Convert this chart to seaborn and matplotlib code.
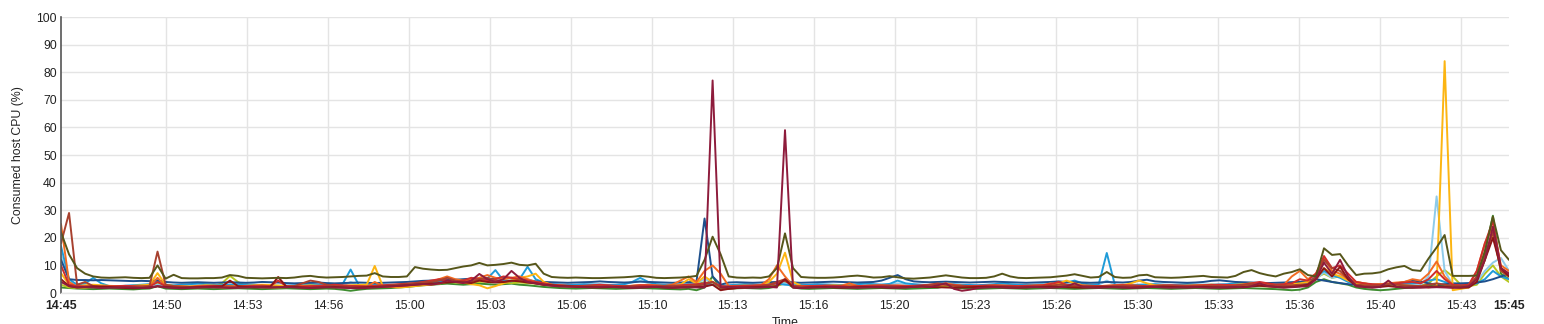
import numpy as np
import pandas as pd
import matplotlib
matplotlib.use("Agg")
import matplotlib.pyplot as plt
import seaborn as sns

# ---------------- data (20-second samples, 14:45 -> 15:45) ----------------
minutes = np.arange(181) / 3.0

olive = [22, 14, 9, 7, 6, 5.6, 5.5, 5.6, 5.7, 5.5, 5.4, 5.5, 10, 5.2, 6.6, 5.4, 5.3, 5.3, 5.4, 5.4,
         5.6, 6.5, 6.2, 5.5, 5.4, 5.3, 5.4, 5.5, 5.4, 5.6, 6.0, 6.2, 5.8, 5.6, 5.7, 5.8, 6.0, 6.2, 6.3, 7.2,
         6.0, 5.8, 5.8, 6.0, 9.4, 8.8, 8.5, 8.3, 8.4, 9.0, 9.6, 10.0, 10.9, 10.0, 10.2, 10.5, 11.0, 10.2, 10.0, 10.6,
         7.0, 5.8, 5.6, 5.5, 5.6, 5.5, 5.4, 5.4, 5.5, 5.6, 5.7, 5.9, 6.2, 5.9, 5.5, 5.4, 5.5, 5.6, 5.8, 6.2,
         12, 20.4, 14, 6.0, 5.6, 5.5, 5.6, 5.5, 6.0, 9.0, 21.6, 9.0, 5.8, 5.6, 5.5, 5.5, 5.6, 5.8, 6.1, 6.3,
         6.0, 5.6, 5.7, 6.1, 5.7, 5.3, 5.2, 5.4, 5.6, 6.0, 6.4, 6.0, 5.6, 5.4, 5.4, 5.5, 6.0, 7.0, 6.0, 5.5,
         5.4, 5.5, 5.6, 5.7, 6.0, 6.3, 6.8, 6.2, 5.6, 5.8, 7.6, 5.8, 5.5, 5.6, 6.4, 6.6, 5.7, 5.6, 5.5, 5.6,
         5.8, 6.0, 6.2, 5.8, 5.7, 5.6, 6.2, 7.6, 8.3, 7.2, 6.5, 6.0, 7.0, 7.6, 8.6, 6.5, 6.0, 16.2, 13.8, 14.1,
         10.0, 6.5, 7.0, 7.1, 7.5, 8.6, 9.3, 9.8, 8.3, 8.0, 12.5, 16.5, 21.0, 6.2, 6.2, 6.2, 6.3, 15.0, 27.7, 15.5,
         12.0]

crimson = [4, 2.5, 2.0, 2.2, 2.0, 1.8, 1.9, 2.0, 2.1, 2.0, 1.8, 1.9, 2.5, 2.0, 1.8, 1.7, 1.8, 2.0, 2.1, 2.0,
           2.0, 1.8, 1.9, 2.0, 2.2, 2.0, 1.9, 2.1, 2.2, 2.0, 1.9, 1.8, 2.0, 2.1, 2.0, 1.9, 1.8, 1.7, 1.8, 2.0,
           2.2, 2.4, 2.6, 2.8, 3.0, 3.2, 3.0, 3.4, 4.5, 4.0, 3.6, 4.5, 6.9, 5.0, 4.0, 5.0, 8.0, 5.5, 4.0, 3.5,
           3.0, 2.6, 2.4, 2.3, 2.2, 2.1, 2.0, 2.2, 2.3, 2.1, 2.0, 1.9, 2.0, 2.1, 2.2, 2.0, 1.9, 2.0, 2.1, 2.0,
           2.0, 77, 2.0, 2.2, 2.1, 2.0, 1.9, 2.0, 2.2, 2.0, 59, 2.0, 1.8, 2.0, 2.1, 2.0, 2.2, 2.1, 2.0, 1.9,
           2.0, 2.1, 2.2, 2.0, 1.9, 2.0, 2.2, 2.4, 2.2, 2.8, 3.5, 1.5, 0.8, 1.2, 1.8, 2.0, 2.1, 2.0, 1.9, 2.0,
           2.1, 2.2, 2.0, 1.9, 2.0, 2.4, 3.5, 2.2, 2.0, 1.9, 2.0, 2.1, 2.0, 1.9, 2.0, 2.1, 2.2, 2.0, 1.9, 2.0,
           2.0, 2.1, 2.0, 1.9, 2.0, 2.1, 2.2, 2.0, 2.5, 3.5, 2.5, 2.2, 2.0, 2.1, 2.3, 2.5, 5.0, 11.0, 7.0, 12.0,
           6.0, 2.5, 2.2, 2.0, 2.2, 4.5, 2.2, 2.0, 2.1, 2.0, 2.0, 2.1, 2.0, 1.9, 2.0, 2.4, 5.0, 12.0, 24.0, 9.0,
           7.0]

brown_red = [18, 29, 3, 4, 2.5, 2.3, 2.2, 2.0, 2.1, 2.2, 2.3, 2.5, 15, 3, 2.5, 2.3, 2.2, 2.0, 2.1, 2.2,
             2.3, 2.2, 2.0, 2.1, 2.2, 2.4, 2.3, 2.2, 2.0, 2.5, 3.5, 4.5, 4.0, 3.0, 2.5, 2.3, 2.2, 2.0, 2.1, 2.2,
             2.5, 2.8, 3.0, 3.2, 3.5, 3.8, 4.0, 4.5, 5.5, 4.5, 4.0, 4.2, 5.0, 5.5, 4.5, 4.0, 4.3, 4.8, 4.0, 3.5,
             3.0, 2.8, 2.6, 2.5, 2.4, 2.3, 2.5, 2.4, 2.3, 2.2, 2.4, 2.5, 2.3, 2.2, 2.4, 2.5, 2.6, 2.4, 2.5, 2.8,
             3.0, 4.0, 2.0, 1.5, 1.8, 2.0, 2.2, 2.4, 3.0, 4.0, 5.0, 2.5, 2.2, 2.0, 2.1, 2.2, 2.3, 2.2, 2.1, 2.0,
             2.1, 2.2, 2.3, 2.4, 2.2, 2.1, 2.3, 2.5, 3.0, 3.5, 3.0, 2.6, 2.4, 2.3, 2.2, 2.1, 2.3, 2.4, 2.2, 2.1,
             2.2, 2.3, 2.4, 2.6, 3.0, 2.8, 2.6, 2.5, 2.4, 2.3, 2.4, 2.5, 2.6, 2.4, 2.3, 2.2, 2.4, 2.6, 2.5, 2.4,
             2.3, 2.4, 2.5, 2.6, 2.5, 2.4, 2.6, 3.0, 3.2, 3.0, 2.8, 2.7, 2.6, 2.8, 3.0, 3.2, 6.0, 12.0, 9.0, 8.0,
             5.0, 3.0, 2.8, 2.6, 2.8, 3.2, 3.0, 2.8, 2.6, 2.5, 3.0, 3.5, 3.0, 2.6, 2.5, 2.6, 6.0, 14.0, 22.0, 8.0,
             6.0]

dark_blue = [12, 5, 4.7, 4.7, 4.6, 4.7, 4.6, 4.5, 4.4, 4.3, 4.4, 4.3, 4.6, 4.0, 3.8, 3.7, 3.8, 3.9, 3.8, 3.7,
             3.8, 3.9, 3.8, 3.7, 3.8, 4.0, 3.9, 3.8, 3.6, 3.5, 3.6, 3.7, 3.8, 3.6, 3.5, 3.6, 3.7, 3.8, 3.7, 3.6,
             3.7, 3.8, 3.9, 4.0, 4.2, 4.4, 4.5, 4.6, 4.7, 4.8, 5.0, 5.2, 5.3, 5.0, 5.2, 5.4, 5.5, 5.0, 4.6, 4.2,
             4.0, 3.9, 3.8, 3.7, 3.8, 3.9, 4.0, 4.2, 4.0, 3.9, 3.8, 3.9, 4.1, 4.0, 3.9, 3.8, 3.7, 3.8, 3.9, 4.2,
             27, 6.0, 3.0, 3.8, 3.9, 3.8, 3.7, 3.8, 3.9, 4.0, 4.5, 3.8, 3.7, 3.8, 3.9, 4.0, 4.1, 4.0, 3.9, 3.8,
             3.9, 4.0, 4.5, 5.5, 6.5, 5.0, 4.2, 4.0, 3.9, 4.0, 4.1, 4.0, 3.9, 3.8, 3.9, 4.0, 4.1, 4.0, 3.9, 3.8,
             3.7, 3.8, 3.9, 4.0, 4.2, 4.0, 3.9, 3.8, 3.7, 3.8, 4.0, 3.9, 3.8, 4.0, 4.5, 4.8, 4.2, 4.0, 3.9, 3.8,
             3.7, 3.8, 4.0, 4.4, 4.6, 4.3, 4.0, 3.9, 3.8, 3.7, 3.6, 3.7, 3.8, 3.9, 4.0, 4.5, 5.0, 4.5, 4.0, 3.6,
             3.2, 3.0, 2.8, 2.7, 2.8, 3.0, 3.5, 4.0, 4.5, 4.2, 3.5, 3.0, 3.2, 3.4, 3.5, 3.6, 3.8, 4.2, 5.0, 6.0,
             7.0]

light_blue = [17, 5, 3, 3.5, 5.5, 3.5, 2.5, 2.4, 2.6, 2.8, 3.0, 3.2, 4.5, 3.0, 2.8, 3.0, 3.2, 3.4, 3.2, 3.0,
              2.9, 3.0, 3.2, 3.1, 3.0, 2.8, 2.7, 2.6, 2.7, 2.8, 3.0, 3.2, 3.1, 2.9, 3.0, 3.2, 8.5, 3.0, 2.8, 3.0,
              2.8, 2.6, 2.7, 2.9, 3.2, 3.5, 3.8, 4.0, 4.2, 4.5, 4.3, 4.6, 5.0, 5.2, 8.3, 4.5, 4.2, 5.0, 9.5, 5.0,
              3.8, 3.2, 3.0, 2.9, 3.0, 3.2, 3.1, 3.0, 2.9, 3.0, 3.2, 4.0, 5.5, 4.0, 3.2, 3.0, 2.9, 3.0, 3.1, 3.2,
              3.5, 3.0, 2.6, 2.8, 3.0, 3.2, 3.0, 2.9, 3.0, 3.4, 3.0, 2.8, 2.9, 3.0, 3.2, 3.1, 3.0, 2.9, 3.0, 3.2,
              3.4, 3.2, 3.0, 3.3, 4.5, 3.5, 3.2, 3.0, 2.9, 3.0, 3.1, 3.2, 3.0, 2.9, 2.8, 3.0, 3.2, 3.5, 3.2, 3.0,
              2.9, 3.0, 3.1, 3.0, 3.2, 3.8, 4.5, 3.5, 3.0, 3.2, 14.5, 3.0, 2.8, 2.9, 3.0, 3.1, 3.2, 3.0, 2.9, 3.0,
              3.2, 3.0, 2.9, 3.0, 3.1, 3.2, 3.5, 3.4, 3.3, 3.2, 3.0, 3.1, 3.4, 3.8, 4.0, 3.5, 6.0, 8.0, 6.5, 5.5,
              4.0, 3.5, 3.2, 3.0, 2.9, 3.0, 3.2, 3.4, 3.5, 3.8, 4.5, 5.0, 4.0, 3.5, 3.2, 3.0, 3.5, 5.0, 8.0, 6.0,
              5.0]

sky_blue = [14, 4, 3, 2.8, 2.6, 2.5, 2.4, 2.5, 2.6, 2.7, 2.6, 2.5, 3.0, 2.6, 2.5, 2.4, 2.6, 2.8, 2.7, 2.6,
            2.5, 2.6, 2.7, 2.8, 2.9, 2.8, 2.7, 2.6, 2.5, 2.6, 2.8, 3.0, 2.9, 2.8, 2.7, 2.6, 4.0, 2.8, 2.7, 2.6,
            2.7, 2.8, 3.0, 3.2, 3.4, 3.6, 3.8, 4.0, 4.2, 4.0, 4.4, 4.8, 5.0, 4.6, 5.5, 4.8, 4.5, 4.6, 5.0, 4.2,
            3.6, 3.2, 3.0, 2.9, 2.8, 2.9, 3.0, 3.1, 3.0, 2.9, 3.2, 3.8, 4.5, 3.6, 3.0, 2.9, 2.8, 2.9, 3.2, 3.5,
            5.0, 4.0, 2.5, 2.6, 2.8, 2.9, 3.0, 2.9, 3.2, 4.0, 3.5, 2.8, 2.7, 2.8, 2.9, 3.0, 2.9, 2.8, 2.7, 2.8,
            2.9, 3.0, 3.1, 3.0, 3.5, 3.2, 3.0, 2.9, 2.8, 2.9, 3.0, 2.9, 2.8, 2.7, 2.8, 2.9, 3.0, 3.2, 3.0, 2.9,
            2.8, 2.9, 3.0, 2.9, 3.0, 3.2, 3.4, 3.0, 2.9, 3.0, 4.5, 3.0, 2.9, 2.8, 2.9, 3.0, 3.1, 3.0, 2.9, 2.8,
            2.9, 3.0, 3.1, 3.0, 2.9, 3.0, 3.2, 3.3, 3.4, 3.2, 3.1, 3.0, 3.2, 3.4, 3.6, 3.5, 5.0, 7.5, 5.5, 6.5,
            4.5, 3.2, 3.0, 2.9, 3.0, 3.5, 3.2, 3.0, 2.9, 3.0, 6.0, 35.0, 8.0, 3.0, 2.9, 3.0, 4.0, 8.0, 11.0, 12.7,
            8.0]

gold = [7.2, 3, 2.5, 2.8, 3.0, 2.8, 2.6, 2.5, 2.4, 2.6, 2.8, 3.0, 7.2, 3.0, 2.6, 2.5, 2.4, 2.6, 2.8, 2.7,
        2.6, 2.5, 2.4, 2.6, 2.8, 3.0, 2.9, 2.7, 2.5, 2.4, 2.6, 2.8, 2.6, 2.5, 2.4, 2.6, 2.8, 2.9, 3.0, 9.8,
        2.5, 2.2, 2.0, 2.2, 2.5, 2.8, 3.0, 3.4, 4.0, 4.5, 3.8, 3.2, 2.8, 1.7, 2.5, 3.5, 4.5, 5.5, 6.0, 7.0,
        4.0, 3.0, 2.6, 2.5, 2.4, 2.5, 2.6, 2.7, 2.6, 2.5, 2.4, 2.6, 2.8, 2.7, 2.6, 2.5, 2.6, 3.0, 5.0, 3.5,
        6.0, 4.0, 2.0, 2.5, 2.6, 2.7, 2.6, 2.8, 4.0, 7.0, 14.6, 4.0, 2.6, 2.5, 2.4, 2.6, 2.8, 2.7, 2.6, 2.5,
        2.6, 2.7, 2.8, 2.6, 2.5, 2.4, 2.5, 2.6, 2.7, 2.8, 3.0, 2.8, 2.6, 2.5, 2.4, 2.6, 2.8, 2.7, 2.6, 2.5,
        2.6, 2.7, 2.8, 3.0, 3.5, 4.5, 3.5, 2.8, 2.6, 2.5, 2.6, 2.7, 2.8, 3.5, 4.5, 3.5, 2.8, 2.6, 2.5, 2.6,
        2.7, 2.8, 2.9, 3.0, 2.9, 2.8, 3.0, 3.2, 3.5, 3.2, 3.0, 2.9, 3.0, 3.2, 3.5, 4.0, 5.0, 9.0, 7.0, 6.0,
        4.5, 3.5, 3.2, 3.0, 3.2, 3.4, 3.0, 2.8, 2.6, 2.5, 2.0, 2.5, 84.0, 1.0, 1.5, 2.0, 5.0, 12.0, 22.0, 8.0,
        6.0]

orange = [25, 4, 2.2, 2.0, 2.2, 2.4, 2.5, 2.3, 2.2, 2.1, 2.2, 2.4, 5.5, 2.5, 2.2, 2.0, 2.1, 2.3, 2.4, 2.2,
          2.0, 2.1, 2.2, 2.4, 2.3, 2.2, 2.1, 2.0, 2.2, 2.4, 2.6, 2.5, 2.3, 2.2, 2.1, 2.3, 2.5, 2.4, 2.2, 4.0,
          2.5, 2.3, 2.4, 2.6, 3.0, 3.5, 4.0, 5.0, 6.0, 5.0, 4.5, 4.8, 5.5, 6.5, 5.5, 5.0, 5.5, 6.0, 5.0, 4.0,
          3.5, 3.0, 2.8, 2.6, 2.5, 2.4, 2.6, 2.8, 2.6, 2.5, 2.4, 2.6, 2.8, 3.0, 2.8, 2.6, 3.0, 4.5, 6.0, 4.0,
          8.0, 10.0, 7.0, 2.5, 2.4, 2.5, 2.6, 2.8, 5.0, 10.0, 6.0, 2.6, 2.5, 2.4, 2.3, 2.4, 2.5, 2.6, 3.5, 2.6,
          2.4, 2.3, 2.5, 2.6, 2.8, 2.6, 2.4, 2.5, 2.6, 3.0, 3.5, 3.0, 2.6, 2.5, 2.4, 2.3, 2.4, 2.6, 2.5, 2.4,
          2.5, 2.6, 2.8, 3.5, 3.0, 2.8, 2.6, 2.5, 2.4, 2.5, 2.6, 2.8, 3.0, 2.8, 2.6, 2.5, 2.6, 2.8, 2.7, 2.6,
          2.5, 2.6, 2.8, 3.0, 2.8, 2.6, 2.8, 3.0, 3.2, 3.5, 3.2, 3.0, 2.9, 6.0, 8.0, 5.0, 7.0, 12.5, 8.0, 7.0,
          5.0, 4.0, 3.5, 3.0, 3.2, 3.5, 3.8, 4.0, 5.0, 4.5, 7.0, 11.4, 6.0, 3.0, 2.5, 2.8, 8.0, 18.0, 24.0, 10.0,
          8.0]

yellow_green = [3.0, 2.0, 1.8, 2.0, 2.2, 2.4, 2.3, 2.2, 2.1, 2.0, 2.2, 2.4, 3.5, 2.4, 2.2, 2.0, 2.1, 2.2, 2.3, 2.5,
                3.5, 6.2, 4.0, 2.5, 2.2, 2.1, 2.0, 2.2, 2.3, 2.2, 2.1, 2.0, 2.2, 2.3, 2.4, 2.3, 2.2, 2.1, 2.0, 2.2,
                2.4, 2.6, 2.8, 3.0, 3.2, 3.4, 3.6, 3.8, 4.0, 3.8, 3.6, 3.8, 4.0, 4.2, 4.0, 3.8, 3.6, 3.8, 3.6, 3.4,
                3.0, 2.8, 2.6, 2.5, 2.4, 2.3, 2.4, 2.5, 2.4, 2.3, 2.2, 2.3, 2.4, 2.5, 2.4, 2.3, 2.4, 2.5, 2.6, 3.0,
                4.0, 3.0, 2.4, 2.3, 2.4, 2.5, 2.6, 2.5, 2.4, 2.6, 3.5, 2.6, 2.4, 2.3, 2.2, 2.3, 2.4, 2.5, 2.4, 2.3,
                2.2, 2.3, 2.4, 2.5, 2.4, 2.3, 2.2, 2.3, 2.4, 2.5, 2.6, 2.5, 2.4, 2.3, 2.2, 2.3, 2.4, 2.5, 2.4, 2.3,
                2.2, 2.3, 2.4, 2.5, 2.6, 2.5, 2.4, 2.3, 2.2, 2.3, 2.4, 2.5, 2.4, 2.3, 2.2, 2.3, 2.4, 2.3, 2.2, 2.3,
                2.4, 2.5, 2.6, 2.5, 2.4, 2.3, 2.4, 2.5, 2.6, 2.5, 2.4, 2.3, 2.4, 2.5, 3.0, 4.0, 5.5, 7.0, 5.5, 6.0,
                5.0, 4.0, 3.5, 3.0, 2.8, 2.6, 2.5, 2.4, 2.5, 2.6, 3.5, 6.0, 8.3, 6.0, 3.0, 2.5, 3.0, 7.0, 10.0, 6.0,
                4.0]

green = [2.0, 1.8, 1.6, 1.5, 1.4, 1.5, 1.6, 1.5, 1.4, 1.3, 1.5, 1.6, 2.5, 1.6, 1.5, 1.4, 1.5, 1.6, 1.5, 1.4,
         1.5, 1.6, 1.7, 1.6, 1.5, 1.4, 1.5, 1.6, 1.7, 1.6, 1.5, 1.4, 1.5, 1.6, 1.5, 1.2, 0.8, 1.2, 1.5, 1.6,
         1.7, 1.8, 2.0, 2.2, 2.5, 2.8, 3.0, 3.2, 3.4, 3.2, 3.0, 3.2, 3.4, 3.2, 3.0, 3.2, 3.4, 3.0, 2.8, 2.5,
         2.2, 2.0, 1.8, 1.7, 1.6, 1.7, 1.8, 1.7, 1.6, 1.5, 1.6, 1.7, 1.8, 1.7, 1.6, 1.5, 1.4, 1.3, 1.5, 1.0,
         2.0, 6.0, 1.5, 1.6, 1.7, 1.8, 1.7, 1.6, 1.8, 2.5, 4.0, 2.0, 1.6, 1.5, 1.6, 1.7, 1.8, 1.7, 1.6, 1.5,
         1.6, 1.7, 1.8, 1.7, 1.6, 1.5, 1.6, 1.7, 1.8, 1.9, 2.5, 1.8, 1.7, 1.6, 1.5, 1.6, 1.7, 1.8, 1.7, 1.6,
         1.5, 1.6, 1.7, 1.8, 1.7, 1.6, 1.5, 1.6, 1.7, 1.8, 1.7, 1.6, 1.5, 1.6, 1.7, 1.8, 1.7, 1.6, 1.5, 1.6,
         1.7, 1.8, 1.7, 1.6, 1.5, 1.6, 1.7, 1.8, 1.7, 1.6, 1.5, 1.4, 1.2, 1.0, 1.2, 2.0, 4.0, 5.0, 4.0, 3.5,
         3.0, 2.0, 1.5, 1.2, 1.0, 1.2, 1.5, 1.8, 2.0, 2.2, 2.5, 2.8, 2.5, 2.2, 2.0, 2.2, 5.0, 15.0, 28.0, 7.0,
         5.0]

red = [10, 3.0, 2.5, 2.4, 2.3, 2.2, 2.4, 2.5, 2.6, 2.5, 2.4, 2.3, 4.0, 2.5, 2.4, 2.3, 2.2, 2.4, 2.5, 2.6,
       2.5, 2.4, 2.3, 2.5, 2.6, 2.7, 2.5, 4.5, 2.5, 2.4, 2.3, 2.5, 2.6, 2.8, 3.0, 2.8, 2.6, 2.5, 2.4, 2.6,
       2.8, 3.0, 3.2, 3.4, 3.6, 4.0, 4.5, 5.0, 4.5, 4.0, 4.5, 5.5, 5.0, 4.5, 5.0, 6.0, 5.5, 5.0, 4.5, 4.0,
       3.5, 3.0, 2.8, 2.6, 2.5, 2.6, 2.8, 3.0, 2.8, 2.6, 2.5, 2.6, 2.8, 2.7, 2.6, 2.5, 2.6, 2.8, 3.0, 3.2,
       3.5, 4.0, 2.5, 2.4, 2.5, 2.6, 2.7, 2.8, 3.0, 3.5, 4.5, 2.5, 2.4, 2.5, 2.6, 2.7, 2.6, 2.5, 2.4, 2.5,
       2.6, 2.7, 2.8, 2.7, 2.6, 2.5, 2.6, 2.8, 3.0, 3.2, 3.0, 2.8, 2.6, 2.5, 2.6, 2.7, 2.8, 2.7, 2.6, 2.5,
       2.6, 2.7, 2.8, 3.2, 4.0, 3.0, 2.8, 2.7, 2.6, 2.5, 2.6, 2.7, 2.8, 2.7, 2.6, 2.5, 2.6, 2.7, 2.8, 2.7,
       2.6, 2.7, 2.8, 2.9, 3.0, 2.9, 2.8, 3.0, 3.5, 4.0, 3.5, 3.0, 3.2, 3.5, 5.0, 4.5, 7.0, 13.4, 9.0, 10.0,
       7.0, 4.0, 3.5, 3.2, 3.0, 3.2, 3.5, 3.8, 4.0, 3.5, 5.0, 8.0, 5.0, 3.0, 2.8, 3.0, 8.0, 18.0, 26.0, 9.0,
       7.0]

dark_red = [5.0, 2.5, 2.0, 2.2, 2.4, 2.3, 2.2, 2.0, 1.8, 1.7, 1.8, 2.0, 2.4, 2.2, 2.0, 1.9, 2.0, 2.1, 2.2, 2.3,
            2.4, 4.5, 2.5, 2.2, 2.0, 2.1, 2.2, 5.8, 2.3, 2.2, 2.0, 1.9, 2.0, 2.1, 2.2, 2.0, 1.9, 2.0, 2.1, 2.2,
            2.3, 2.4, 2.6, 2.8, 3.0, 3.2, 3.4, 3.6, 3.8, 4.0, 3.8, 3.6, 4.5, 4.0, 3.8, 4.0, 4.5, 4.2, 3.8, 3.5,
            3.0, 2.8, 2.5, 2.4, 2.3, 2.2, 2.1, 2.0, 2.1, 2.2, 2.0, 1.9, 2.0, 2.1, 2.2, 2.0, 1.9, 2.0, 2.1, 2.2,
            2.3, 3.0, 1.0, 1.5, 1.8, 2.0, 2.1, 2.2, 2.3, 2.5, 5.0, 2.0, 1.8, 2.0, 2.1, 2.2, 2.0, 1.9, 2.0, 2.1,
            2.2, 2.1, 2.0, 1.9, 2.0, 2.1, 2.2, 2.3, 2.2, 2.1, 2.0, 1.9, 2.0, 2.1, 2.2, 2.3, 2.2, 2.1, 2.0, 1.9,
            2.0, 2.1, 2.2, 2.3, 2.2, 2.1, 2.0, 1.9, 2.0, 2.1, 2.2, 2.1, 2.0, 1.9, 2.0, 2.1, 2.2, 2.3, 2.2, 2.1,
            2.0, 2.1, 2.2, 2.1, 2.0, 1.9, 2.0, 2.2, 2.4, 2.6, 2.4, 2.2, 2.0, 2.2, 2.5, 3.0, 5.0, 9.0, 6.0, 9.5,
            5.0, 2.5, 2.2, 2.0, 2.2, 2.5, 2.2, 2.0, 1.9, 2.0, 2.2, 2.4, 2.2, 2.0, 1.9, 2.0, 4.0, 12.0, 20.0, 9.0,
            6.0]

series_values = {
    "green": green, "yellow_green": yellow_green, "sky_blue": sky_blue,
    "light_blue": light_blue, "dark_blue": dark_blue, "gold": gold,
    "orange": orange, "red": red, "brown_red": brown_red,
    "dark_red": dark_red, "olive": olive, "crimson": crimson,
}
series_colors = {
    "green": "#3d8c2f", "yellow_green": "#b7c61f", "sky_blue": "#8ecbea",
    "light_blue": "#1f9bd8", "dark_blue": "#1d4f8c", "gold": "#fcb512",
    "orange": "#f26b22", "red": "#d02d2b", "brown_red": "#a8412f",
    "dark_red": "#8c1616", "olive": "#56561a", "crimson": "#8e1c3c",
}

tick_labels = ["14:45", "14:50", "14:53", "14:56", "15:00", "15:03", "15:06", "15:10",
               "15:13", "15:16", "15:20", "15:23", "15:26", "15:30", "15:33", "15:36",
               "15:40", "15:43", "15:45"]

for k, v in series_values.items():
    assert len(v) == len(minutes), (k, len(v))

frames = [pd.DataFrame({"minute": minutes, "cpu": v, "vm": k}) for k, v in series_values.items()]
df = pd.concat(frames, ignore_index=True)

# ---------------- plot ----------------
sns.set_style("white")
plt.rcParams["font.family"] = ["Liberation Sans", "DejaVu Sans"]

W, H = 1544, 324
fig = plt.figure(figsize=(W / 100, H / 100), dpi=100)
ax = fig.add_axes([61 / W, 1 - 293 / H, 1448 / W, 276 / H])

sns.lineplot(data=df, x="minute", y="cpu", hue="vm", hue_order=list(series_values.keys()),
             palette=series_colors, estimator=None, linewidth=1.4, legend=False, ax=ax)

ax.set_xlim(0, 60)
ax.set_ylim(0, 100)
ax.set_yticks(np.arange(0, 101, 10))

inner = [4.37 + 3.3525 * k for k in range(17)]
ax.set_xticks([0] + inner + [60])
ax.set_xticklabels(tick_labels)
for lbl in (ax.get_xticklabels()[0], ax.get_xticklabels()[-1]):
    lbl.set_fontweight("bold")

ax.grid(True, color="#e4e4e4", linewidth=1.0)
ax.set_axisbelow(True)
xg = ax.get_xgridlines()
xg[0].set_visible(False)
xg[-1].set_visible(False)

for s in ("top", "right"):
    ax.spines[s].set_visible(False)
ax.spines["left"].set_color("#555555")
ax.spines["left"].set_linewidth(1.2)
ax.spines["bottom"].set_color("#e4e4e4")
ax.spines["bottom"].set_linewidth(1.0)

ax.tick_params(axis="both", length=0, labelsize=8.8, colors="#222222")
ax.tick_params(axis="y", pad=3)
ax.tick_params(axis="x", pad=5)

ax.set_ylabel("Consumed host CPU (%)", fontsize=8.8, color="#222222", labelpad=9)
ax.set_xlabel("Time", fontsize=8.8, color="#222222", labelpad=4)

fig.savefig("out.png", dpi=100)
